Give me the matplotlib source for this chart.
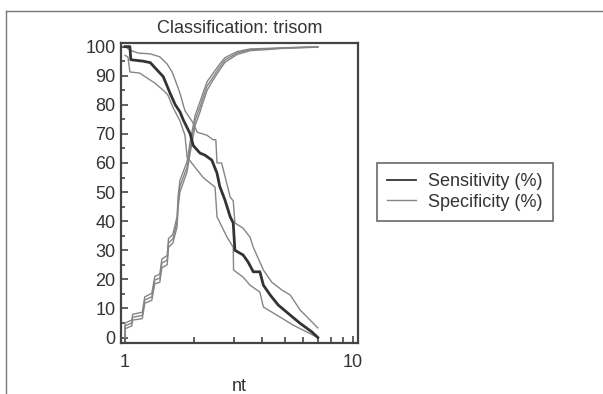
import matplotlib
matplotlib.use("Agg")
import matplotlib.pyplot as plt
from matplotlib.lines import Line2D
from matplotlib.ticker import LogLocator, FixedLocator, MultipleLocator, NullFormatter

# sensitivity, middle line and its two bands
sens_x = [1.0, 1.05, 1.06, 1.2, 1.29, 1.38, 1.47, 1.575, 1.66, 1.74, 1.8, 1.93, 1.99,
          2.13, 2.24, 2.4, 2.53, 2.6, 2.74, 2.89, 2.98, 3.03, 3.29, 3.46, 3.65, 3.9,
          4.04, 4.33, 4.69, 5.3, 5.85, 6.6, 7.0]
sens_y = [100, 100, 95.5, 95, 94.5, 92, 89.7, 84, 80, 77.6, 74.8, 70, 66,
          63.4, 62.7, 61, 56.5, 52, 47.3, 41.5, 39.4, 30, 28.4, 26, 22.6, 22.6,
          18, 14.6, 11.2, 7.7, 4.9, 1.9, 0]

sens_hi_x = [1.0, 1.05, 1.14, 1.29, 1.42, 1.53, 1.61, 1.69, 1.74, 1.83, 1.99, 2.07,
             2.29, 2.43, 2.5, 2.53, 2.65, 2.89, 2.98, 3.03, 3.29, 3.53, 3.65, 4.04,
             4.4, 4.88, 5.3, 5.85, 7.0]
sens_hi_y = [100, 98.8, 97.8, 97.5, 96.5, 94, 91.2, 86.8, 84, 78, 73.7, 70.6,
             69.5, 68, 68, 60, 60, 48.3, 47, 39.4, 37.6, 34.5, 31, 23.2,
             19, 16.3, 14.6, 9.5, 3.3]

sens_lo_x = [1.0, 1.03, 1.05, 1.16, 1.25, 1.35, 1.47, 1.54, 1.62, 1.74, 1.83, 1.87,
             2.2, 2.48, 2.53, 2.8, 2.98, 2.99, 3.29, 3.53, 3.9, 4.04, 4.63, 5.45, 7.0]
sens_lo_y = [97, 96.4, 91.3, 90.9, 89.2, 87.5, 85, 83.4, 79.2, 74.5, 69.6, 62,
             55, 51.7, 41.5, 34.5, 31, 23.2, 20.8, 18, 15.6, 10.5, 7.7, 4.3, 0]

# specificity, middle line and its two bands
spec_x = [1.0, 1.0, 1.07, 1.08, 1.19, 1.22, 1.31, 1.35, 1.42, 1.45, 1.53, 1.55, 1.62,
          1.69, 1.71, 1.74, 1.87, 1.93, 2.03, 2.13, 2.2, 2.29, 2.43, 2.6, 2.74, 3.1,
          3.53, 4.2, 4.9, 7.0]
spec_y = [0, 4, 5, 7, 7.6, 12.9, 14, 19.8, 20.4, 25.6, 26.6, 32.4, 34,
          39.7, 47, 52, 58.6, 65.5, 74.8, 79.2, 82.6, 86.5, 89.5, 93, 95.4, 97.8,
          98.9, 99.2, 99.5, 99.9]
spec_lo_y = [0, 3, 4, 6, 6.5, 11.8, 12.8, 18.5, 19, 24, 25, 31, 32.5,
             38, 45, 50, 57, 63.5, 73, 77.5, 81, 85, 88.5, 92, 94.6, 97.3,
             98.6, 99, 99.4, 99.8]
spec_hi_y = [0, 5, 6, 8, 8.7, 14, 15.2, 21, 21.8, 27, 28.2, 34, 35.5,
             41.5, 49, 54, 60.5, 67.5, 76.5, 81, 84.2, 88, 90.8, 94, 96.2, 98.3,
             99.2, 99.4, 99.6, 100]

plt.rcParams["font.family"] = ["Liberation Sans", "DejaVu Sans"]
dark = "#333333"
grey = "#858585"
fs = 13

fig = plt.figure(figsize=(6.03, 3.94), dpi=100)
ax = fig.add_axes([0.2007, 0.130, 0.3930, 0.762])

ax.plot(sens_hi_x, sens_hi_y, color=grey, lw=1.0)
ax.plot(sens_lo_x, sens_lo_y, color=grey, lw=1.0)
ax.plot(spec_x, spec_lo_y, color=grey, lw=1.0)
ax.plot(spec_x, spec_hi_y, color=grey, lw=1.0)
ax.plot(spec_x, spec_y, color=grey, lw=1.0)
ax.plot(sens_x, sens_y, color=dark, lw=2.0)

ax.set_xscale("log")
ax.set_xlim(0.96, 10.5)
ax.set_ylim(-1.8, 101.4)
ax.xaxis.set_major_locator(FixedLocator([1, 10]))
ax.xaxis.set_minor_locator(LogLocator(base=10, subs=range(2, 10)))
ax.xaxis.set_minor_formatter(NullFormatter())
ax.set_xticklabels(["1", "10"])
ax.yaxis.set_major_locator(MultipleLocator(10))
ax.yaxis.set_minor_locator(MultipleLocator(5))

for s in ax.spines.values():
    s.set_linewidth(1.6)
    s.set_color("#444444")
ax.tick_params(which="both", direction="in", colors="#444444", labelcolor=dark,
               labelsize=fs, width=1.2, top=False, right=False)
ax.tick_params(axis="y", which="major", length=5, pad=4)
ax.tick_params(axis="y", which="minor", length=3)
ax.tick_params(axis="x", which="major", length=5, pad=8)
ax.tick_params(axis="x", which="minor", length=4)

ax.set_title("Classification: trisom", fontsize=fs, color=dark, pad=7)
ax.set_xlabel("nt", fontsize=fs, color=dark, labelpad=5)

handles = [Line2D([], [], color=dark, lw=1.3), Line2D([], [], color=grey, lw=1.0)]
leg = fig.legend(handles, ["Sensitivity (%)", "Specificity (%)"], loc="center left",
                 bbox_to_anchor=(0.625, 0.513), fontsize=fs, frameon=True,
                 fancybox=False, handlelength=1.6, handletextpad=0.7,
                 labelspacing=0.2, borderpad=0.55, borderaxespad=0)
leg.get_frame().set_edgecolor("#444444")
leg.get_frame().set_linewidth(1.2)
for t in leg.get_texts():
    t.set_color(dark)

# outer frame of the picture (top and left edges only visible)
fig.add_artist(Line2D([0.010, 1.0], [0.972, 0.972], transform=fig.transFigure,
                      color="#777777", lw=1.0))
fig.add_artist(Line2D([0.010, 0.010], [0.0, 0.972], transform=fig.transFigure,
                      color="#777777", lw=1.0))

fig.savefig("out.png", dpi=100)
